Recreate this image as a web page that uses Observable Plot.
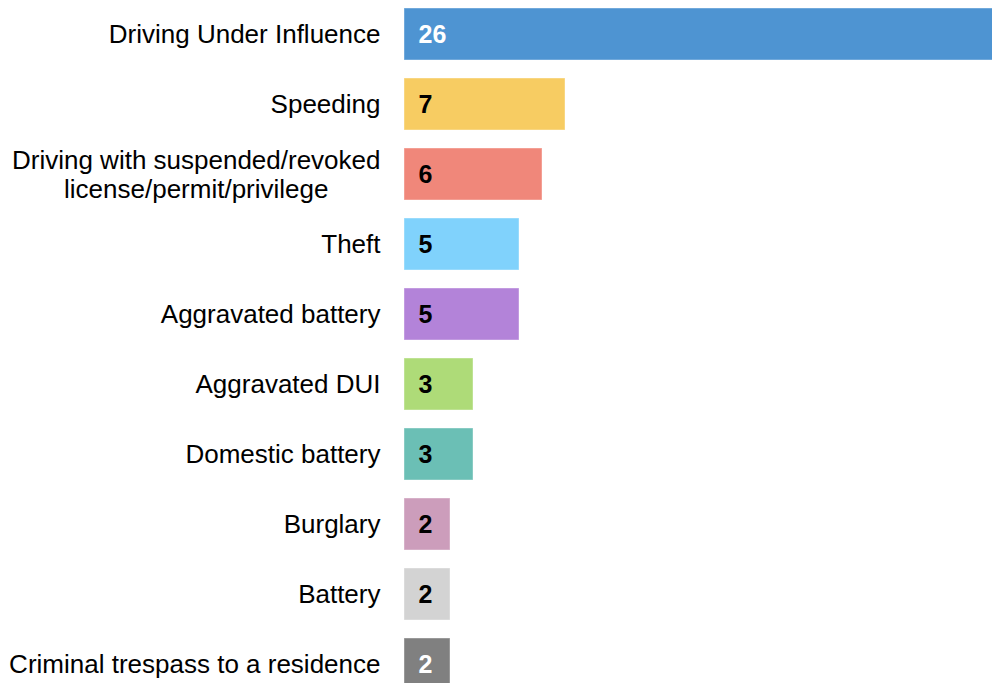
<!DOCTYPE html>
<html>
<head>
<meta charset="utf-8">
<script src="https://cdn.jsdelivr.net/npm/d3@7"></script>
<script src="https://cdn.jsdelivr.net/npm/@observablehq/plot@0.6"></script>
<style>
  html, body { margin: 0; padding: 0; background: white; overflow: hidden; }
</style>
</head>
<body>
<div id="chart"></div>
<script>
const categories = [
  "Driving Under Influence",
  "Speeding",
  "Driving with suspended/revoked\nlicense/permit/privilege",
  "Theft",
  "Aggravated battery",
  "Aggravated DUI",
  "Domestic battery",
  "Burglary",
  "Battery",
  "Criminal trespass to a residence"
];
const counts = [26, 7, 6, 5, 5, 3, 3, 2, 2, 2];
const barColors = ["#4e94d2", "#f7cc62", "#f0877a", "#80d2fc", "#b383d9", "#aedb78", "#6bbfb5", "#cc9dbb", "#d3d3d3", "#808080"];
const valueColors = ["white", "black", "black", "black", "black", "black", "black", "black", "black", "white"];

const data = categories.map((c, i) => ({category: c, count: counts[i], color: barColors[i], textColor: valueColors[i]}));

const fontFamily = "'Liberation Sans', Arial, Helvetica, sans-serif";
const labelSize = 26;
const labelGap = 24;

// measure multi-line label widths so their lines can be centred within the block
const ctx = document.createElement("canvas").getContext("2d");
ctx.font = `${labelSize}px ${fontFamily}`;
const single = data.filter(d => !d.category.includes("\n"));
const multi = data.filter(d => d.category.includes("\n"));
const multiWidth = d3.max(multi, d => d3.max(d.category.split("\n"), l => ctx.measureText(l).width)) || 0;

const chart = Plot.plot({
  width: 992,
  height: 683,
  margin: 0,
  style: {fontFamily, background: "white", overflow: "hidden"},
  x: {domain: [0, 26], range: [404, 1002], axis: null},
  y: {domain: categories, range: [-1.8, 699.7], paddingInner: 0.259, paddingOuter: 0.13, axis: null},
  color: {type: "identity"},
  marks: [
    Plot.barX(data, {x: "count", y: "category", fill: "color", stroke: "white", strokeOpacity: 0.4, strokeWidth: 1}),
    Plot.text(data, {x: 0, y: "category", text: d => String(d.count), fill: "textColor", textAnchor: "start", dx: 14, fontWeight: "bold", fontSize: 25}),
    Plot.text(single, {x: 0, y: "category", text: "category", fill: "black", textAnchor: "end", dx: -labelGap, fontSize: labelSize}),
    Plot.text(multi, {x: 0, y: "category", text: "category", fill: "black", textAnchor: "middle", dx: -labelGap - multiWidth / 2, fontSize: labelSize, lineHeight: 1.08})
  ]
});
document.getElementById("chart").appendChild(chart);
</script>
</body>
</html>
